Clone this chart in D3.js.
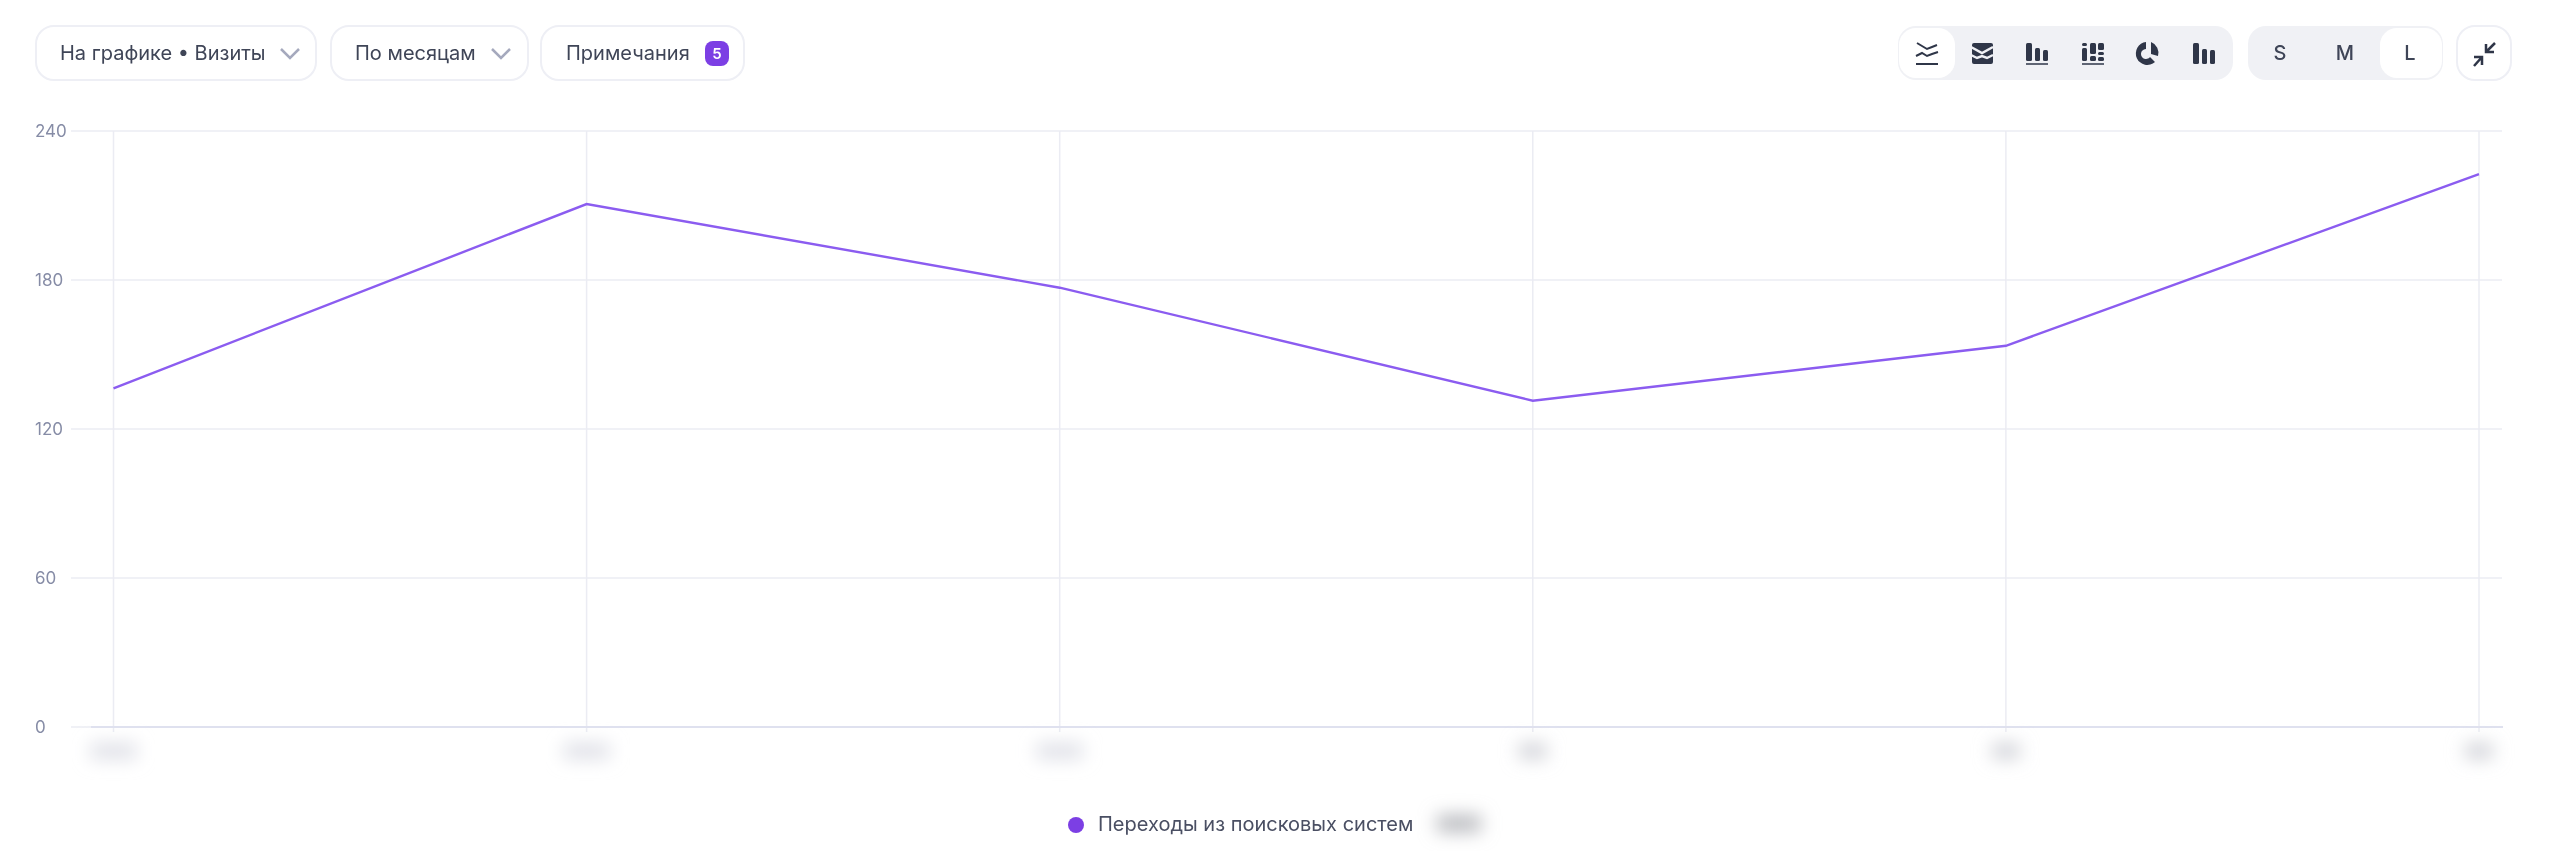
<!DOCTYPE html>
<html>
<head>
<meta charset="utf-8">
<script src="https://cdn.jsdelivr.net/npm/d3@7"></script>
<style>
body { margin: 0; background: #fff; }
svg { display: block; filter: blur(0.6px); }
text { font-family: Inter, "Noto Sans", sans-serif; }
</style>
</head>
<body>
<svg width="2560" height="851"></svg>
<script>
var months = ["m1", "m2", "m3", "m4", "m5", "m6"];
var visits = [136.4, 210.6, 176.9, 131.4, 153.5, 222.6];
var yTicks = [0, 60, 120, 180, 240];
var blurWidths = [46, 46, 46, 28, 28, 28];
var seriesName = "Переходы из поисковых систем";
var chartColor = "#8b5cf0";

var svg = d3.select("svg");

var x = d3.scalePoint().domain(months).range([113.5, 2479]);
var y = d3.scaleLinear().domain([0, 240]).range([727, 131]);

var defs = svg.append("defs");
defs.append("filter").attr("id", "blur")
  .attr("filterUnits", "userSpaceOnUse")
  .attr("x", 0).attr("y", 700).attr("width", 2560).attr("height", 151)
  .append("feGaussianBlur").attr("stdDeviation", 9);

// grid
svg.selectAll(".hgrid").data(yTicks).enter().append("line")
  .attr("x1", 71).attr("x2", 2502)
  .attr("y1", function(d) { return y(d); })
  .attr("y2", function(d) { return y(d); })
  .style("stroke", "#ebecf3").style("stroke-width", 1.5);

svg.selectAll(".vgrid").data(months).enter().append("line")
  .attr("x1", function(d) { return x(d); })
  .attr("x2", function(d) { return x(d); })
  .attr("y1", 131).attr("y2", 732)
  .style("stroke", "#ebecf3").style("stroke-width", 1.5);

// base line
svg.append("line")
  .attr("x1", 91).attr("x2", 2503)
  .attr("y1", y(0)).attr("y2", y(0))
  .style("stroke", "#dfe1ef").style("stroke-width", 2);

// y labels
svg.selectAll(".ylab").data(yTicks).enter().append("text")
  .attr("x", 35)
  .attr("y", function(d) { return y(d) + 6; })
  .style("font-size", "17px")
  .style("fill", "#868ca6")
  .text(function(d) { return d; });

// blurred x labels
svg.selectAll(".xlab").data(months).enter().append("rect")
  .attr("x", function(d, i) { return x(d) - blurWidths[i] / 2; })
  .attr("y", 743).attr("width", function(d, i) { return blurWidths[i]; }).attr("height", 16)
  .attr("filter", "url(#blur)")
  .style("fill", function(d, i) { return i < 3 ? "#dfe0e7" : "#d2d3d9"; });

// line
var line = d3.line()
  .x(function(d, i) { return x(months[i]); })
  .y(function(d) { return y(d); });

svg.append("path").datum(visits)
  .attr("d", line)
  .style("fill", "none")
  .style("stroke", chartColor)
  .style("stroke-width", 2.4);

// legend
svg.append("circle").attr("cx", 1076).attr("cy", 825).attr("r", 8).style("fill", "#7c3fe4");
svg.append("text").attr("x", 1098).attr("y", 831)
  .style("font-size", "20px").style("fill", "#4a4f63").text(seriesName);
svg.append("rect").attr("x", 1437).attr("y", 815).attr("width", 44).attr("height", 17)
  .attr("filter", "url(#blur)").style("fill", "#b8b9be");

// left controls
var pills = [
  { x: 36, w: 280, label: "На графике • Визиты", tx: 60, chev: 290 },
  { x: 331, w: 197, label: "По месяцам", tx: 355, chev: 501 },
  { x: 541, w: 203, label: "Примечания", tx: 566 }
];
pills.forEach(function(p) {
  svg.append("rect").attr("x", p.x).attr("y", 26).attr("width", p.w).attr("height", 54).attr("rx", 18)
    .style("fill", "#fff").style("stroke", "#eeeff5").style("stroke-width", 2);
  svg.append("text").attr("x", p.tx).attr("y", 60).style("font-size", "20px").style("fill", "#3f4557").text(p.label);
  if (p.chev) {
    svg.append("path").attr("d", "M" + (p.chev - 9) + " 49l9 9l9 -9")
      .style("fill", "none").style("stroke", "#a5a9bd").style("stroke-width", 2.5);
  }
});
svg.append("rect").attr("x", 705).attr("y", 41).attr("width", 24).attr("height", 25).attr("rx", 8).style("fill", "#7c3fe4");
svg.append("text").attr("x", 717).attr("y", 59).attr("text-anchor", "middle")
  .style("font-size", "15px").style("font-weight", 600).style("fill", "#fff").text("5");

// right controls
svg.append("rect").attr("x", 1898).attr("y", 26).attr("width", 335).attr("height", 54).attr("rx", 18).style("fill", "#f0f1f5");
svg.append("rect").attr("x", 1899).attr("y", 28).attr("width", 56).attr("height", 50).attr("rx", 17)
  .style("fill", "#fff");
svg.append("rect").attr("x", 2248).attr("y", 26).attr("width", 195).attr("height", 54).attr("rx", 18).style("fill", "#f0f1f5");
svg.append("rect").attr("x", 2380).attr("y", 28).attr("width", 62).attr("height", 50).attr("rx", 17).style("fill", "#fff");
svg.append("rect").attr("x", 2457).attr("y", 26).attr("width", 54).attr("height", 54).attr("rx", 18)
  .style("fill", "#fff").style("stroke", "#eeeff5").style("stroke-width", 2);

var sizes = ["S", "M", "L"];
var sizeX = [2280, 2345, 2410];
sizes.forEach(function(s, i) {
  svg.append("text").attr("x", sizeX[i]).attr("y", 60).attr("text-anchor", "middle")
    .style("font-size", "20px").style("font-weight", 500).style("fill", "#3f4557").text(s);
});

// chart type icons
var iconColor = "#2f3648";
function bars(cx, list) {
  list.forEach(function(b) {
    svg.append("rect").attr("x", cx + b[0]).attr("y", 53 + b[1]).attr("width", b[2]).attr("height", b[3]).attr("rx", 1.5)
      .style("fill", iconColor);
  });
}
function baseline(cx) {
  svg.append("line").attr("x1", cx - 11).attr("x2", cx + 11).attr("y1", 64).attr("y2", 64)
    .style("stroke", iconColor).style("stroke-width", 1.5);
}

svg.append("path").attr("transform", "translate(1927,53)")
  .attr("d", "M-10 -10l5 3l5 3l5 -2l5 -2M-11 3l6 -3l5 3l5 -2l6 -2M-11 11h22")
  .style("fill", "none").style("stroke", iconColor).style("stroke-width", 2);

svg.append("rect").attr("x", 1972).attr("y", 43).attr("width", 21).attr("height", 21).attr("rx", 2).style("fill", iconColor);
svg.append("path").attr("d", "M1971 47l11 6l11 -6M1971 55l6 3l5 -2l5 2l6 -3")
  .style("fill", "none").style("stroke", "#f0f1f5").style("stroke-width", 2.5);

bars(2037, [[-11, -10, 6, 18], [-2, -5, 5, 13], [6, -3, 5, 11]]);
baseline(2037);

bars(2093, [[-11, -10, 5, 3], [-11, -5, 5, 13], [-3, -10, 6, 11], [-3, 3, 6, 5], [5, -10, 6, 7], [5, -1, 6, 3], [5, 4, 6, 4]]);
baseline(2093);

svg.append("path").attr("transform", "translate(2148,53)")
  .attr("d", "M-2 -11a11.5 11.5 0 1 0 9 20l-5 -5a5 5 0 1 1 -4 -8zM3 -11a11.5 11.5 0 0 1 7 14l-7 -2z")
  .style("fill", iconColor);

bars(2204, [[-11, -10, 6, 21], [-2, -4, 5, 15], [6, -3, 5, 14]]);

// collapse icon
svg.append("path").attr("d", "M2486 52l9 -9M2486 44v8h8M2482 57l-8 9M2474 57h8v8")
  .style("fill", "none").style("stroke", iconColor).style("stroke-width", 2.5);
</script>
</body>
</html>
